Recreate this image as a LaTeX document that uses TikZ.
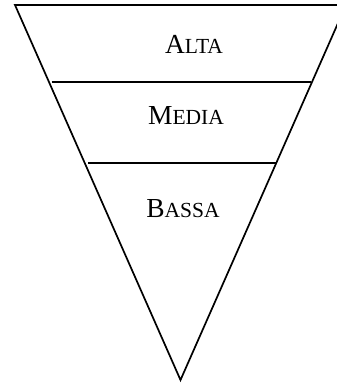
\documentclass[tikz,border=0pt]{standalone}
\usepackage{fontspec}
\setmainfont{Liberation Serif}
\newcommand\fakesc[2]{{\fontsize{27.5}{28}\selectfont #1\fontsize{21.5}{22}\selectfont #2}}
\begin{document}
\begin{tikzpicture}[x=1pt,y=1pt,
  edge/.style={line width=1.7pt, line join=miter},
  lvl/.style={anchor=base, inner sep=0pt}]
\useasboundingbox (0,0) rectangle (337,383);
\clip (0,0) rectangle (337,383);
\coordinate (tl) at (15,378);
\coordinate (tr) at (346,378);
\coordinate (bt) at (180.5,3);
\draw[edge] (tl) -- (tr) -- (bt) -- cycle;
\coordinate (a1) at (51.5,301.3);
\coordinate (a2) at (311,301.3);
\coordinate (b1) at (88,219.7);
\coordinate (b2) at (276.5,219.7);
\draw[edge] (a1) -- (a2);
\draw[edge] (b1) -- (b2);
\node[lvl] (alta) at (194,329.7) {\fakesc{A}{LTA}};
\node[lvl] (media) at (186,258) {\fakesc{M}{EDIA}};
\node[lvl] (bassa) at (183,165) {\fakesc{B}{ASSA}};
\end{tikzpicture}
\end{document}
